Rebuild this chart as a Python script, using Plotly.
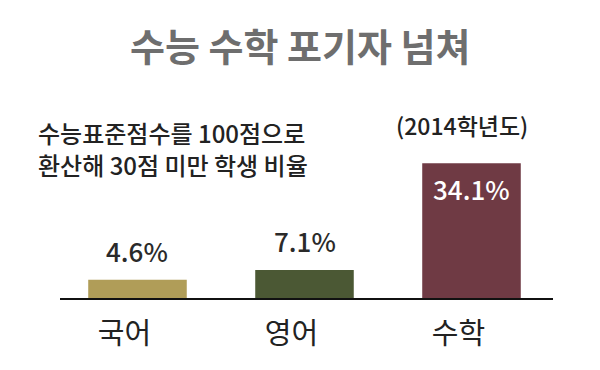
import plotly.graph_objects as go

categories = ["국어", "영어", "수학"]
values = [4.6, 7.1, 34.1]
value_labels = ["4.6%", "7.1%", "34.1%"]
bar_colors = ["#b09d58", "#4b5834", "#6f3a44"]

title_text = "수능 수학 포기자 넘쳐"
note_lines = ["수능표준점수를 100점으로", "환산해 30점 미만 학생 비율"]
year_text = "(2014학년도)"

KR = "Noto Sans CJK KR, Noto Sans, sans-serif"

# The page body has an 8px margin; figure pixel = screen pixel - 8
W, H = 592, 362
L, R, T, B = 52, 47, 132, 72
PW, PH = W - L - R, H - T - B


def px(sx):
    return (sx - 8 - L) / PW


def py(sy):
    return (H - B - (sy - 8)) / PH


fig = go.Figure()
fig.add_trace(go.Bar(
    x=categories, y=values,
    marker=dict(color=bar_colors, line=dict(width=0)),
    width=0.59,
    hoverinfo="skip",
))

for c, v, lab in zip(categories, values, value_labels):
    inside = v > 20
    fig.add_annotation(x=c, y=v, xref="x", yref="y", text=lab,
                       showarrow=False, yanchor="middle",
                       yshift=-25 if inside else 29,
                       font=dict(family=KR, size=26, weight=500,
                                 color="white" if inside else "#2a2a2a"))

fig.add_annotation(text="<b>" + title_text + "</b>", xref="paper", yref="paper",
                   x=px(300), y=py(44), xanchor="center", yanchor="middle",
                   showarrow=False, font=dict(family=KR, size=38, color="#6e6e6e"))
for line, sy in zip(note_lines, [132, 164]):
    fig.add_annotation(text=line, xref="paper", yref="paper",
                       x=px(37), y=py(sy), xanchor="left", yanchor="middle",
                       align="left", showarrow=False, borderpad=0,
                       font=dict(family=KR, size=24, color="#222", weight=500))
fig.add_annotation(text=year_text, xref="paper", yref="paper",
                   x=px(462), y=py(125), xanchor="center", yanchor="middle",
                   showarrow=False, font=dict(family=KR, size=23, color="#222", weight=500))

fig.update_layout(
    width=W, height=H,
    paper_bgcolor="white", plot_bgcolor="white",
    margin=dict(l=L, r=R, t=T, b=B),
    showlegend=False,
    xaxis=dict(range=[-0.464, 2.488], showline=True, linecolor="#111", linewidth=2,
               ticks="", showgrid=False, zeroline=False,
               tickfont=dict(family=KR, size=29, color="#222"),
               ticklabelstandoff=9, ticklabelshift=-13, fixedrange=True),
    yaxis=dict(range=[0, 40], visible=False, fixedrange=True),
)

fig.write_html("out.html")
